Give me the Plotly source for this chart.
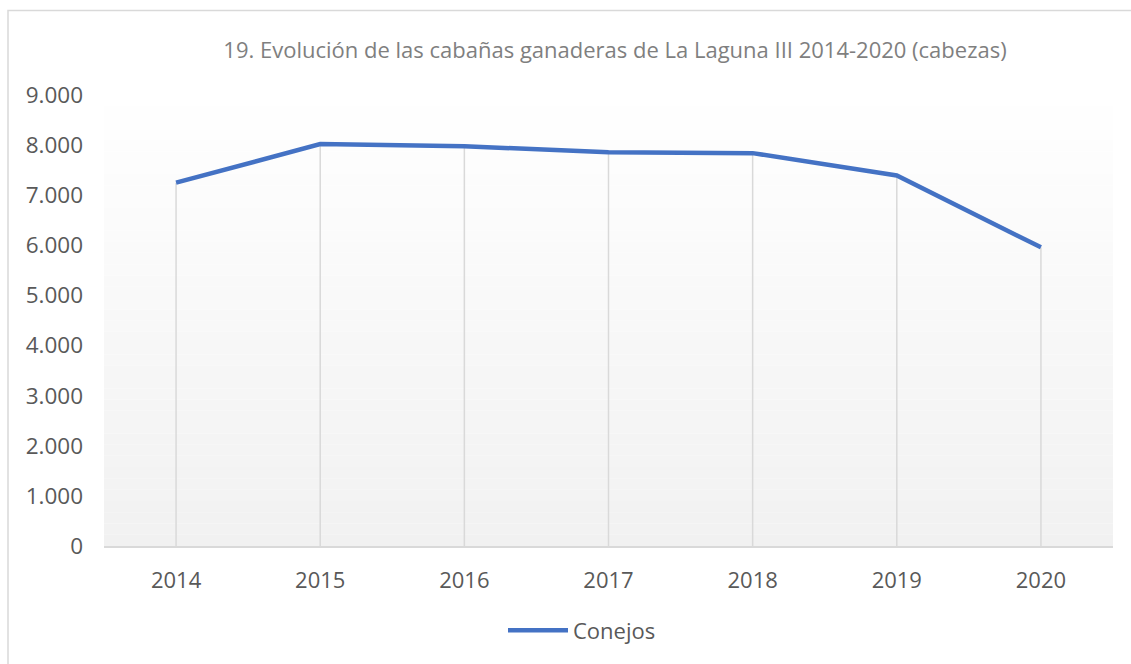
import plotly.graph_objects as go

years = ["2014", "2015", "2016", "2017", "2018", "2019", "2020"]
conejos = [7250, 8020, 7975, 7860, 7840, 7395, 5960]
y_ticks = [0, 1000, 2000, 3000, 4000, 5000, 6000, 7000, 8000, 9000]

W, H = 1131, 664
L, R, T, B = 104, 18, 95, 115
PW = W - L - R
PH = H - T - B

fig = go.Figure()

# gradient plot-area background (white at top to light gray at bottom)
n = 40
for i in range(n):
    f = (i + 0.5) / n
    top_c = (255, 255, 255)
    bot_c = (241, 241, 241)
    c = tuple(round(top_c[k] + (bot_c[k] - top_c[k]) * f) for k in range(3))
    fig.add_shape(type="rect", xref="paper", yref="paper",
                  x0=0, x1=1, y0=1 - (i + 1) / n, y1=1 - i / n,
                  fillcolor="rgb(%d,%d,%d)" % c, line_width=0, layer="below")

# outer chart border
fig.add_shape(type="rect", xref="paper", yref="paper",
              x0=(8 - L) / PW, x1=(W + 20 - L) / PW,
              y0=-(H + 20 - T - PH) / PH, y1=(H - 10 - B) / PH,
              line=dict(color="#d9d9d9", width=1.5), fillcolor="rgba(0,0,0,0)")

# drop lines
dx, dy = [], []
for yr, v in zip(years, conejos):
    dx += [yr, yr, None]
    dy += [0, v, None]
fig.add_trace(go.Scatter(x=dx, y=dy, mode="lines", showlegend=False,
                         line=dict(color="#d9d9d9", width=1.5), hoverinfo="skip"))

fig.add_trace(go.Scatter(x=years, y=conejos, mode="lines", name="Conejos",
                         line=dict(color="#4472C4", width=4.5)))

fig.update_layout(
    width=W, height=H,
    margin=dict(l=L, r=R, t=T, b=B),
    paper_bgcolor="white", plot_bgcolor="rgba(0,0,0,0)",
    separators=",.",
    font=dict(family="Open Sans", size=22, color="#595959"),
    title=dict(text="19. Evolución de las cabañas ganaderas de La Laguna III 2014-2020 (cabezas)",
               x=(615 - L) / PW, xref="paper", xanchor="center", y=1 - 50 / H, yanchor="middle",
               font=dict(family="Open Sans", size=22, color="#7f7f7f")),
    xaxis=dict(type="category", range=[-0.5, 6.5], showgrid=False,
               showline=True, linecolor="#d9d9d9", linewidth=1.5,
               ticks="", ticklabelstandoff=14, tickfont=dict(size=22)),
    yaxis=dict(range=[0, 9000], tickvals=y_ticks, tickformat=",d",
               showgrid=False, zeroline=False, showline=False,
               ticks="", ticklabelstandoff=20, tickfont=dict(size=22.5)),
    legend=dict(orientation="h", x=(503 - L) / PW, xanchor="left", y=-(634 - 549) / PH,
                yanchor="middle", font=dict(size=22), itemwidth=60,
                bgcolor="rgba(0,0,0,0)"),
    showlegend=True,
)

fig.write_html("out.html", config={"displayModeBar": False},
               post_script="document.body.style.margin='0';")
